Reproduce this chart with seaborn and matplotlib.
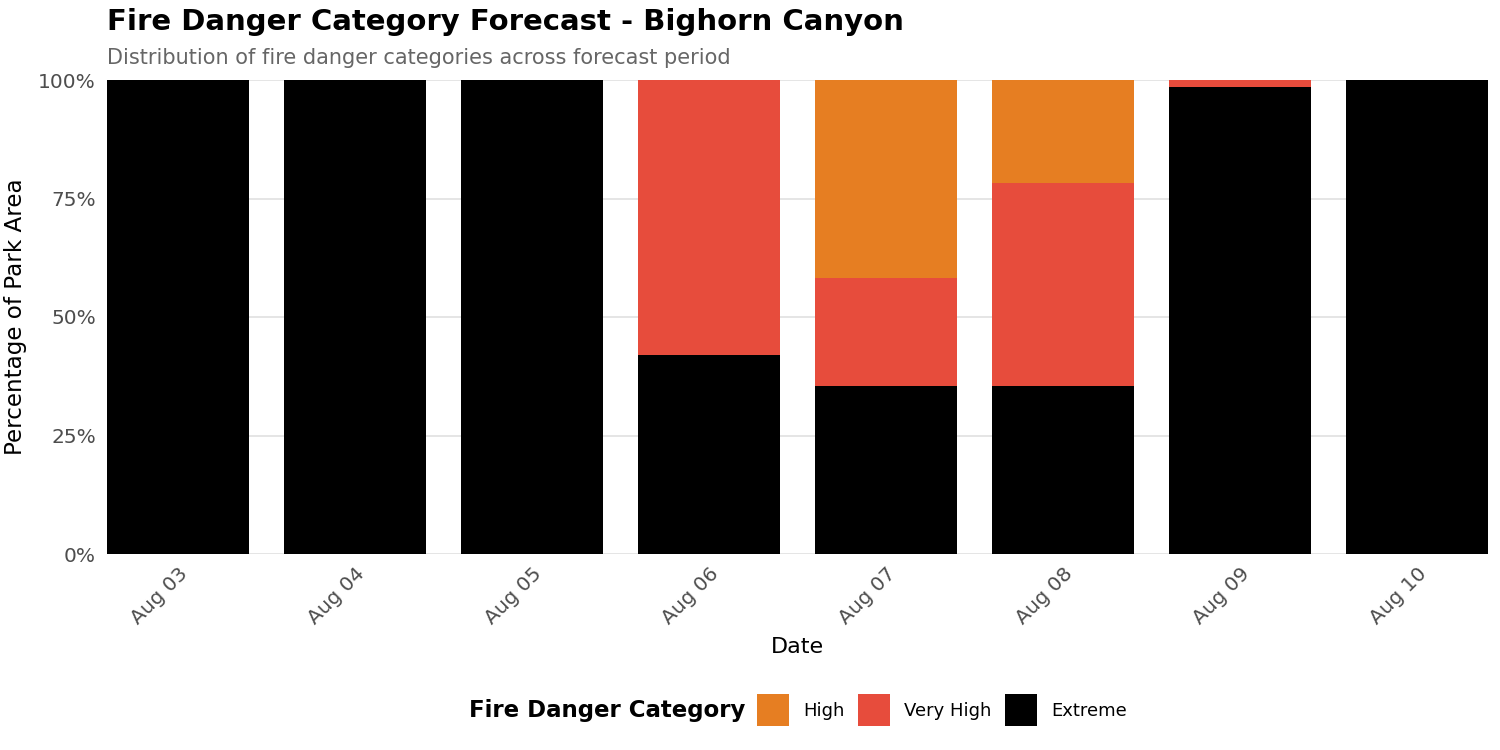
import matplotlib
matplotlib.use("Agg")
import matplotlib.pyplot as plt
import seaborn as sns
import pandas as pd
import numpy as np
from matplotlib.patches import Patch
from matplotlib.ticker import FuncFormatter

dates = ["Aug 03", "Aug 04", "Aug 05", "Aug 06", "Aug 07", "Aug 08", "Aug 09", "Aug 10"]
extreme = [100.0, 100.0, 100.0, 42.0, 35.5, 35.5, 98.6, 100.0]
very_high = [0.0, 0.0, 0.0, 58.0, 22.8, 42.8, 1.4, 0.0]
high = [0.0, 0.0, 0.0, 0.0, 41.7, 21.7, 0.0, 0.0]
categories = ["High", "Very High", "Extreme"]
colors = {"High": "#E67E22", "Very High": "#E74C3C", "Extreme": "#000000"}

df = pd.DataFrame({"date": dates, "Extreme": extreme, "Very High": very_high, "High": high})
df["cum_ext"] = df["Extreme"]
df["cum_vh"] = df["Extreme"] + df["Very High"]
df["cum_high"] = df["cum_vh"] + df["High"]

sns.set_theme(style="white")
plt.rcParams["font.family"] = ["DejaVu Sans"]
plt.rcParams["text.color"] = "black"

fig = plt.figure(figsize=(15, 7.5), dpi=100)
ax = fig.add_axes([107/1500, 1 - 554/750, (1488-107)/1500, (554-80)/750])

for col, cat in [("cum_high", "High"), ("cum_vh", "Very High"), ("cum_ext", "Extreme")]:
    sns.barplot(data=df, x="date", y=col, color=colors[cat], width=0.8,
                saturation=1, ax=ax, order=dates, linewidth=0, edgecolor="none")

ax.set_xlim(-0.4, 7.4)
ax.set_ylim(0, 100)
ax.set_yticks([0, 25, 50, 75, 100])
ax.yaxis.set_major_formatter(FuncFormatter(lambda v, p: f"{int(v)}%"))
ax.grid(axis="y", color="#e0e0e0", linewidth=1.2)
ax.set_axisbelow(True)
for s in ax.spines.values():
    s.set_visible(False)
ax.tick_params(axis="both", length=0, labelsize=14.5, labelcolor="#4d4d4d")
ax.tick_params(axis="y", pad=8)
ax.tick_params(axis="x", pad=7)
plt.setp(ax.get_xticklabels(), rotation=45, ha="right", rotation_mode="anchor")
ax.set_xlabel("Date", fontsize=16, color="black", labelpad=7)
ax.set_ylabel("Percentage of Park Area", fontsize=16.6, color="black", labelpad=8)

fig.text(107/1500, 1 - 22/750, "Fire Danger Category Forecast - Bighorn Canyon",
         fontsize=21, fontweight="bold", va="center", ha="left", color="black")
fig.text(107/1500, 1 - 58/750, "Distribution of fire danger categories across forecast period",
         fontsize=15, color="#666666", va="center", ha="left")

fig.text(745/1500, 1 - 710/750, "Fire Danger Category", fontsize=16.5, fontweight="bold",
         ha="right", va="center", color="black")
handles = [Patch(facecolor=colors[c], edgecolor="none", label=c) for c in categories]
fig.legend(handles=handles, loc="center left", bbox_to_anchor=(757/1500, 1 - 710/750),
           ncol=3, frameon=False, fontsize=13, handlelength=1.75, handleheight=2.3,
           handletextpad=0.8, columnspacing=0.75, borderaxespad=0, borderpad=0,
           labelcolor="black")

fig.savefig("out.png", dpi=100, facecolor="white")
